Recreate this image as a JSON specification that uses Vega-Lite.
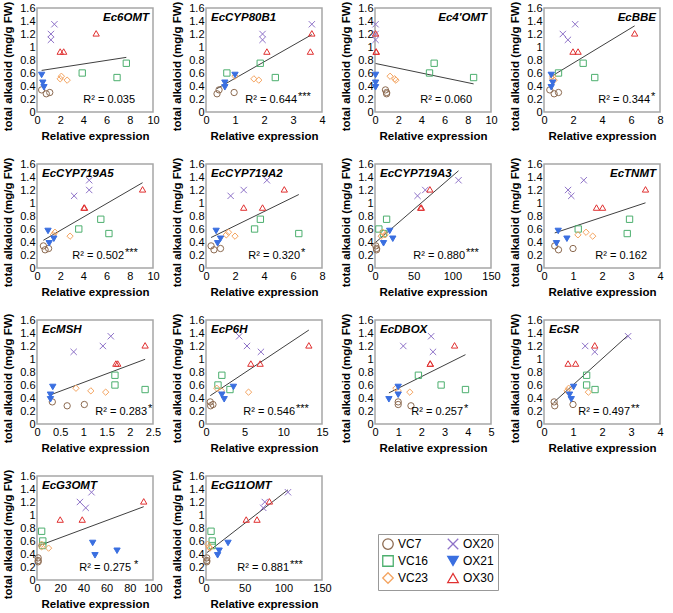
{
"$schema":"https://vega.github.io/schema/vega-lite/v6.json",
"padding":{"left":1,"top":0,"right":0,"bottom":0},
"columns":4,
"spacing":{"column":7,"row":13},
"config":{"font":"Liberation Sans","view":{"stroke":"#a6a6a6","strokeWidth":1.5},
"axis":{"ticks":false,"domain":false,"grid":false,"labelFontSize":11,"titleFontSize":11.5,"titleFontWeight":"bold","labelColor":"#000","titleColor":"#000","labelPadding":2,"labelFlush":false,"labelOverlap":false},
"axisX":{"titlePadding":5},"axisY":{"titlePadding":6,"titleY":58},
"text":{"fontSize":11,"color":"#000"}},
"datasets":{"samples":[
{"line":"VC7","total":0.34,"Ec6OMT":0.4,"EcCYP80B1":0.45,"Ec4OMT":0.9,"EcBBE":0.4,"EcCYP719A5":0.55,"EcCYP719A2":0.35,"EcCYP719A3":1,"EcTNMT":0.37,"EcMSH":0.33,"EcP6H":0.55,"EcDBOX":1.0,"EcSR":0.35,"EcG3OMT":1,"EcG11OMT":1},
{"line":"VC7","total":0.28,"Ec6OMT":0.8,"EcCYP80B1":0.38,"Ec4OMT":1.0,"EcBBE":0.7,"EcCYP719A5":0.7,"EcCYP719A2":0.55,"EcCYP719A3":2,"EcTNMT":0.5,"EcMSH":0.65,"EcP6H":0.6,"EcDBOX":1.55,"EcSR":0.37,"EcG3OMT":1,"EcG11OMT":1},
{"line":"VC7","total":0.30,"Ec6OMT":1.1,"EcCYP80B1":0.97,"Ec4OMT":1.0,"EcBBE":1.0,"EcCYP719A5":1.0,"EcCYP719A2":1.0,"EcCYP719A3":2,"EcTNMT":1.0,"EcMSH":1.02,"EcP6H":0.9,"EcDBOX":1.0,"EcSR":1.0,"EcG3OMT":1,"EcG11OMT":1},
{"line":"VC16","total":0.75,"Ec6OMT":7.7,"EcCYP80B1":1.87,"Ec4OMT":5.1,"EcBBE":2.7,"EcCYP719A5":5.5,"EcCYP719A2":3.75,"EcCYP719A3":15,"EcTNMT":2.95,"EcMSH":1.68,"EcP6H":2.05,"EcDBOX":1.87,"EcSR":1.47,"EcG3OMT":4,"EcG11OMT":6.5},
{"line":"VC16","total":0.60,"Ec6OMT":3.9,"EcCYP80B1":0.72,"Ec4OMT":4.7,"EcBBE":1.0,"EcCYP719A5":3.6,"EcCYP719A2":3.35,"EcCYP719A3":5,"EcTNMT":1.18,"EcMSH":1.68,"EcP6H":1.55,"EcDBOX":2.85,"EcSR":1.47,"EcG3OMT":5,"EcG11OMT":8},
{"line":"VC16","total":0.53,"Ec6OMT":6.9,"EcCYP80B1":2.39,"Ec4OMT":8.5,"EcBBE":3.5,"EcCYP719A5":6.2,"EcCYP719A2":6.4,"EcCYP719A3":11,"EcTNMT":2.87,"EcMSH":2.33,"EcP6H":3.1,"EcDBOX":3.9,"EcSR":1.76,"EcG3OMT":5,"EcG11OMT":8},
{"line":"VC23","total":0.55,"Ec6OMT":2.1,"EcCYP80B1":1.0,"Ec4OMT":1.3,"EcBBE":0.6,"EcCYP719A5":1.55,"EcCYP719A2":1.55,"EcCYP719A3":10,"EcTNMT":1.45,"EcMSH":0.84,"EcP6H":1.4,"EcDBOX":0.9,"EcSR":0.85,"EcG3OMT":4,"EcG11OMT":2},
{"line":"VC23","total":0.51,"Ec6OMT":2.0,"EcCYP80B1":1.65,"Ec4OMT":1.7,"EcBBE":0.6,"EcCYP719A5":1.4,"EcCYP719A2":1.4,"EcCYP719A3":13,"EcTNMT":1.17,"EcMSH":1.16,"EcP6H":2.0,"EcDBOX":1.0,"EcSR":0.8,"EcG3OMT":4,"EcG11OMT":4},
{"line":"VC23","total":0.49,"Ec6OMT":2.6,"EcCYP80B1":1.82,"Ec4OMT":1.8,"EcBBE":0.7,"EcCYP719A5":2.85,"EcCYP719A2":2.0,"EcCYP719A3":8,"EcTNMT":1.68,"EcMSH":1.48,"EcP6H":5.5,"EcDBOX":1.5,"EcSR":1.53,"EcG3OMT":10,"EcG11OMT":5},
{"line":"OX20","total":1.35,"Ec6OMT":1.5,"EcCYP80B1":3.65,"Ec4OMT":0.05,"EcBBE":2.15,"EcCYP719A5":4.5,"EcCYP719A2":4.2,"EcCYP719A3":108,"EcTNMT":1.37,"EcMSH":1.59,"EcP6H":4.3,"EcDBOX":2.42,"EcSR":2.9,"EcG3OMT":47,"EcG11OMT":106},
{"line":"OX20","total":1.20,"Ec6OMT":1.2,"EcCYP80B1":1.95,"Ec4OMT":0.05,"EcBBE":1.3,"EcCYP719A5":4.5,"EcCYP719A2":2.6,"EcCYP719A3":65,"EcTNMT":0.83,"EcMSH":1.42,"EcP6H":5.3,"EcDBOX":1.22,"EcSR":1.42,"EcG3OMT":37,"EcG11OMT":76},
{"line":"OX20","total":1.11,"Ec6OMT":1.2,"EcCYP80B1":1.95,"Ec4OMT":0.05,"EcBBE":1.65,"EcCYP719A5":3.2,"EcCYP719A2":1.7,"EcCYP719A3":55,"EcTNMT":0.94,"EcMSH":0.79,"EcP6H":7.1,"EcDBOX":2.5,"EcSR":1.75,"EcG3OMT":42,"EcG11OMT":74},
{"line":"OX21","total":0.57,"Ec6OMT":0.4,"EcCYP80B1":1.0,"Ec4OMT":0.05,"EcBBE":0.5,"EcCYP719A5":0.95,"EcCYP719A2":0.7,"EcCYP719A3":19,"EcTNMT":0.49,"EcMSH":0.34,"EcP6H":3.55,"EcDBOX":1.0,"EcSR":1.02,"EcG3OMT":48,"EcG11OMT":28.5},
{"line":"OX21","total":0.45,"Ec6OMT":0.5,"EcCYP80B1":0.65,"Ec4OMT":0.05,"EcBBE":0.6,"EcCYP719A5":1.45,"EcCYP719A2":1.0,"EcCYP719A3":23,"EcTNMT":0.79,"EcMSH":0.29,"EcP6H":2.05,"EcDBOX":1.0,"EcSR":0.88,"EcG3OMT":69,"EcG11OMT":17},
{"line":"OX21","total":0.38,"Ec6OMT":0.6,"EcCYP80B1":0.65,"Ec4OMT":0.05,"EcBBE":0.5,"EcCYP719A5":1.05,"EcCYP719A2":0.8,"EcCYP719A3":11,"EcTNMT":0.43,"EcMSH":0.29,"EcP6H":2.35,"EcDBOX":0.6,"EcSR":0.94,"EcG3OMT":50,"EcG11OMT":15},
{"line":"OX30","total":1.21,"Ec6OMT":5.1,"EcCYP80B1":3.65,"Ec4OMT":0.05,"EcBBE":6.25,"EcCYP719A5":9.1,"EcCYP719A2":5.4,"EcCYP719A3":71,"EcTNMT":3.5,"EcMSH":2.33,"EcP6H":13.3,"EcDBOX":3.43,"EcSR":1.75,"EcG3OMT":92,"EcG11OMT":82},
{"line":"OX30","total":0.93,"Ec6OMT":2.0,"EcCYP80B1":2.1,"Ec4OMT":0.1,"EcBBE":2.0,"EcCYP719A5":4.05,"EcCYP719A2":2.6,"EcCYP719A3":59,"EcTNMT":1.81,"EcMSH":1.7,"EcP6H":5.8,"EcDBOX":2.38,"EcSR":0.83,"EcG3OMT":20,"EcG11OMT":52},
{"line":"OX30","total":0.93,"Ec6OMT":2.3,"EcCYP80B1":3.6,"Ec4OMT":0.1,"EcBBE":2.35,"EcCYP719A5":4.1,"EcCYP719A2":3.9,"EcCYP719A3":60,"EcTNMT":2.02,"EcMSH":1.74,"EcP6H":7.0,"EcDBOX":2.38,"EcSR":1.09,"EcG3OMT":39,"EcG11OMT":66}
]},
"concat":[
{"width":116,"height":104,"data":{"name":"samples"},"layer":[
{"transform":[{"regression":"total","on":"Ec6OMT"}],"mark":{"type":"line","color":"#404040","strokeWidth":1},"encoding":{"x":{"field":"Ec6OMT","type":"quantitative","scale":{"domain":[0,10],"nice":false},"axis":{"values":[0,2,4,6,8,10],"tickCount":20,"format":"~r","title":"Relative  expression"}},"y":{"field":"total","type":"quantitative","scale":{"domain":[0,1.6],"nice":false},"axis":{"values":[0,0.2,0.4,0.6,0.8,1,1.2,1.4,1.6],"tickCount":20,"format":"~r","title":"total alkaloid (mg/g FW)"}}}},
{"mark":{"type":"point","filled":false,"size":40,"strokeWidth":1,"opacity":1},"encoding":{"x":{"field":"Ec6OMT","type":"quantitative"},"y":{"field":"total","type":"quantitative"},
"shape":{"field":"line","type":"nominal","scale":{"domain":["VC7","VC16","VC23","OX20","OX21","OX30"],"range":["circle","square","diamond","M-1,-1L1,1M-1,1L1,-1","triangle-down","triangle-up"]},"legend":{"orient":"none","legendX":341,"legendY":526,"columns":2,"title":null,"symbolSize":110,"symbolStrokeWidth":1.3,"labelFontSize":12,"columnPadding":16,"rowPadding":1,"padding":4,"strokeColor":"#999","symbolOpacity":1}},
"color":{"field":"line","type":"nominal","scale":{"domain":["VC7","VC16","VC23","OX20","OX21","OX30"],"range":["#8c6a50","#4caf6e","#f4a460","#8e72c8","#3a6fe0","#e03030"]},"legend":{"orient":"none","legendX":341,"legendY":526,"columns":2,"title":null,"symbolSize":110,"symbolStrokeWidth":1.3,"labelFontSize":12,"columnPadding":16,"rowPadding":1,"padding":4,"strokeColor":"#999","symbolOpacity":1}},
"fill":{"field":"line","type":"nominal","scale":{"domain":["VC7","VC16","VC23","OX20","OX21","OX30"],"range":["transparent","transparent","transparent","transparent","#3a6fe0","transparent"]},"legend":{"orient":"none","legendX":341,"legendY":526,"columns":2,"title":null,"symbolSize":110,"symbolStrokeWidth":1.3,"labelFontSize":12,"columnPadding":16,"rowPadding":1,"padding":4,"strokeColor":"#999","symbolOpacity":1}}}},
{"data":{"values":[{"gene":"Ec6OMT","r2":"R² = 0.035","sig":""}]},"layer":[
{"mark":{"type":"text","x":"width","dx":-4,"y":10,"align":"right","baseline":"middle","fontWeight":"bold","fontStyle":"italic","fontSize":11.5},"encoding":{"text":{"field":"gene"}}},
{"mark":{"type":"text","x":"width","dx":-18,"y":"height","dy":-12,"align":"right","baseline":"middle"},"encoding":{"text":{"field":"r2"}}},
{"mark":{"type":"text","x":"width","dx":-17,"y":"height","dy":-15,"align":"left","baseline":"middle"},"encoding":{"text":{"field":"sig"}}}]}]},

{"width":116,"height":104,"data":{"name":"samples"},"layer":[
{"transform":[{"regression":"total","on":"EcCYP80B1"}],"mark":{"type":"line","color":"#404040","strokeWidth":1},"encoding":{"x":{"field":"EcCYP80B1","type":"quantitative","scale":{"domain":[0,4],"nice":false},"axis":{"values":[0,1,2,3,4],"tickCount":20,"format":"~r","title":"Relative  expression"}},"y":{"field":"total","type":"quantitative","scale":{"domain":[0,1.6],"nice":false},"axis":{"values":[0,0.2,0.4,0.6,0.8,1,1.2,1.4,1.6],"tickCount":20,"format":"~r","title":"total alkaloid (mg/g FW)"}}}},
{"mark":{"type":"point","filled":false,"size":40,"strokeWidth":1,"opacity":1},"encoding":{"x":{"field":"EcCYP80B1","type":"quantitative"},"y":{"field":"total","type":"quantitative"},
"shape":{"field":"line","type":"nominal","scale":{"domain":["VC7","VC16","VC23","OX20","OX21","OX30"],"range":["circle","square","diamond","M-1,-1L1,1M-1,1L1,-1","triangle-down","triangle-up"]},"legend":null},
"color":{"field":"line","type":"nominal","scale":{"domain":["VC7","VC16","VC23","OX20","OX21","OX30"],"range":["#8c6a50","#4caf6e","#f4a460","#8e72c8","#3a6fe0","#e03030"]},"legend":null},
"fill":{"field":"line","type":"nominal","scale":{"domain":["VC7","VC16","VC23","OX20","OX21","OX30"],"range":["transparent","transparent","transparent","transparent","#3a6fe0","transparent"]},"legend":null}}},
{"data":{"values":[{"gene":"EcCYP80B1","r2":"R² = 0.644","sig":"***"}]},"layer":[
{"mark":{"type":"text","x":5,"y":10,"align":"left","baseline":"middle","fontWeight":"bold","fontStyle":"italic","fontSize":11.5},"encoding":{"text":{"field":"gene"}}},
{"mark":{"type":"text","x":"width","dx":-25,"y":"height","dy":-12,"align":"right","baseline":"middle"},"encoding":{"text":{"field":"r2"}}},
{"mark":{"type":"text","x":"width","dx":-24,"y":"height","dy":-15,"align":"left","baseline":"middle"},"encoding":{"text":{"field":"sig"}}}]}]},

{"width":116,"height":104,"data":{"name":"samples"},"layer":[
{"transform":[{"regression":"total","on":"Ec4OMT"}],"mark":{"type":"line","color":"#404040","strokeWidth":1},"encoding":{"x":{"field":"Ec4OMT","type":"quantitative","scale":{"domain":[0,10],"nice":false},"axis":{"values":[0,2,4,6,8,10],"tickCount":20,"format":"~r","title":"Relative  expression"}},"y":{"field":"total","type":"quantitative","scale":{"domain":[0,1.6],"nice":false},"axis":{"values":[0,0.2,0.4,0.6,0.8,1,1.2,1.4,1.6],"tickCount":20,"format":"~r","title":"total alkaloid (mg/g FW)"}}}},
{"mark":{"type":"point","filled":false,"size":40,"strokeWidth":1,"opacity":1},"encoding":{"x":{"field":"Ec4OMT","type":"quantitative"},"y":{"field":"total","type":"quantitative"},
"shape":{"field":"line","type":"nominal","scale":{"domain":["VC7","VC16","VC23","OX20","OX21","OX30"],"range":["circle","square","diamond","M-1,-1L1,1M-1,1L1,-1","triangle-down","triangle-up"]},"legend":null},
"color":{"field":"line","type":"nominal","scale":{"domain":["VC7","VC16","VC23","OX20","OX21","OX30"],"range":["#8c6a50","#4caf6e","#f4a460","#8e72c8","#3a6fe0","#e03030"]},"legend":null},
"fill":{"field":"line","type":"nominal","scale":{"domain":["VC7","VC16","VC23","OX20","OX21","OX30"],"range":["transparent","transparent","transparent","transparent","#3a6fe0","transparent"]},"legend":null}}},
{"data":{"values":[{"gene":"Ec4'OMT","r2":"R² = 0.060","sig":""}]},"layer":[
{"mark":{"type":"text","x":"width","dx":-4,"y":10,"align":"right","baseline":"middle","fontWeight":"bold","fontStyle":"italic","fontSize":11.5},"encoding":{"text":{"field":"gene"}}},
{"mark":{"type":"text","x":"width","dx":-19,"y":"height","dy":-12,"align":"right","baseline":"middle"},"encoding":{"text":{"field":"r2"}}},
{"mark":{"type":"text","x":"width","dx":-18,"y":"height","dy":-15,"align":"left","baseline":"middle"},"encoding":{"text":{"field":"sig"}}}]}]},

{"width":116,"height":104,"data":{"name":"samples"},"layer":[
{"transform":[{"regression":"total","on":"EcBBE"}],"mark":{"type":"line","color":"#404040","strokeWidth":1},"encoding":{"x":{"field":"EcBBE","type":"quantitative","scale":{"domain":[0,8],"nice":false},"axis":{"values":[0,2,4,6,8],"tickCount":20,"format":"~r","title":"Relative  expression"}},"y":{"field":"total","type":"quantitative","scale":{"domain":[0,1.6],"nice":false},"axis":{"values":[0,0.2,0.4,0.6,0.8,1,1.2,1.4,1.6],"tickCount":20,"format":"~r","title":"total alkaloid (mg/g FW)"}}}},
{"mark":{"type":"point","filled":false,"size":40,"strokeWidth":1,"opacity":1},"encoding":{"x":{"field":"EcBBE","type":"quantitative"},"y":{"field":"total","type":"quantitative"},
"shape":{"field":"line","type":"nominal","scale":{"domain":["VC7","VC16","VC23","OX20","OX21","OX30"],"range":["circle","square","diamond","M-1,-1L1,1M-1,1L1,-1","triangle-down","triangle-up"]},"legend":null},
"color":{"field":"line","type":"nominal","scale":{"domain":["VC7","VC16","VC23","OX20","OX21","OX30"],"range":["#8c6a50","#4caf6e","#f4a460","#8e72c8","#3a6fe0","#e03030"]},"legend":null},
"fill":{"field":"line","type":"nominal","scale":{"domain":["VC7","VC16","VC23","OX20","OX21","OX30"],"range":["transparent","transparent","transparent","transparent","#3a6fe0","transparent"]},"legend":null}}},
{"data":{"values":[{"gene":"EcBBE","r2":"R² = 0.344","sig":"*"}]},"layer":[
{"mark":{"type":"text","x":"width","dx":-4,"y":10,"align":"right","baseline":"middle","fontWeight":"bold","fontStyle":"italic","fontSize":11.5},"encoding":{"text":{"field":"gene"}}},
{"mark":{"type":"text","x":"width","dx":-10,"y":"height","dy":-12,"align":"right","baseline":"middle"},"encoding":{"text":{"field":"r2"}}},
{"mark":{"type":"text","x":"width","dx":-9,"y":"height","dy":-15,"align":"left","baseline":"middle"},"encoding":{"text":{"field":"sig"}}}]}]},

{"width":116,"height":104,"data":{"name":"samples"},"layer":[
{"transform":[{"regression":"total","on":"EcCYP719A5"}],"mark":{"type":"line","color":"#404040","strokeWidth":1},"encoding":{"x":{"field":"EcCYP719A5","type":"quantitative","scale":{"domain":[0,10],"nice":false},"axis":{"values":[0,2,4,6,8,10],"tickCount":20,"format":"~r","title":"Relative  expression"}},"y":{"field":"total","type":"quantitative","scale":{"domain":[0,1.6],"nice":false},"axis":{"values":[0,0.2,0.4,0.6,0.8,1,1.2,1.4,1.6],"tickCount":20,"format":"~r","title":"total alkaloid (mg/g FW)"}}}},
{"mark":{"type":"point","filled":false,"size":40,"strokeWidth":1,"opacity":1},"encoding":{"x":{"field":"EcCYP719A5","type":"quantitative"},"y":{"field":"total","type":"quantitative"},
"shape":{"field":"line","type":"nominal","scale":{"domain":["VC7","VC16","VC23","OX20","OX21","OX30"],"range":["circle","square","diamond","M-1,-1L1,1M-1,1L1,-1","triangle-down","triangle-up"]},"legend":null},
"color":{"field":"line","type":"nominal","scale":{"domain":["VC7","VC16","VC23","OX20","OX21","OX30"],"range":["#8c6a50","#4caf6e","#f4a460","#8e72c8","#3a6fe0","#e03030"]},"legend":null},
"fill":{"field":"line","type":"nominal","scale":{"domain":["VC7","VC16","VC23","OX20","OX21","OX30"],"range":["transparent","transparent","transparent","transparent","#3a6fe0","transparent"]},"legend":null}}},
{"data":{"values":[{"gene":"EcCYP719A5","r2":"R² = 0.502","sig":"***"}]},"layer":[
{"mark":{"type":"text","x":5,"y":10,"align":"left","baseline":"middle","fontWeight":"bold","fontStyle":"italic","fontSize":11.5},"encoding":{"text":{"field":"gene"}}},
{"mark":{"type":"text","x":"width","dx":-29,"y":"height","dy":-12,"align":"right","baseline":"middle"},"encoding":{"text":{"field":"r2"}}},
{"mark":{"type":"text","x":"width","dx":-28,"y":"height","dy":-15,"align":"left","baseline":"middle"},"encoding":{"text":{"field":"sig"}}}]}]},

{"width":116,"height":104,"data":{"name":"samples"},"layer":[
{"transform":[{"regression":"total","on":"EcCYP719A2"}],"mark":{"type":"line","color":"#404040","strokeWidth":1},"encoding":{"x":{"field":"EcCYP719A2","type":"quantitative","scale":{"domain":[0,8],"nice":false},"axis":{"values":[0,2,4,6,8],"tickCount":20,"format":"~r","title":"Relative  expression"}},"y":{"field":"total","type":"quantitative","scale":{"domain":[0,1.6],"nice":false},"axis":{"values":[0,0.2,0.4,0.6,0.8,1,1.2,1.4,1.6],"tickCount":20,"format":"~r","title":"total alkaloid (mg/g FW)"}}}},
{"mark":{"type":"point","filled":false,"size":40,"strokeWidth":1,"opacity":1},"encoding":{"x":{"field":"EcCYP719A2","type":"quantitative"},"y":{"field":"total","type":"quantitative"},
"shape":{"field":"line","type":"nominal","scale":{"domain":["VC7","VC16","VC23","OX20","OX21","OX30"],"range":["circle","square","diamond","M-1,-1L1,1M-1,1L1,-1","triangle-down","triangle-up"]},"legend":null},
"color":{"field":"line","type":"nominal","scale":{"domain":["VC7","VC16","VC23","OX20","OX21","OX30"],"range":["#8c6a50","#4caf6e","#f4a460","#8e72c8","#3a6fe0","#e03030"]},"legend":null},
"fill":{"field":"line","type":"nominal","scale":{"domain":["VC7","VC16","VC23","OX20","OX21","OX30"],"range":["transparent","transparent","transparent","transparent","#3a6fe0","transparent"]},"legend":null}}},
{"data":{"values":[{"gene":"EcCYP719A2","r2":"R² = 0.320","sig":"*"}]},"layer":[
{"mark":{"type":"text","x":5,"y":10,"align":"left","baseline":"middle","fontWeight":"bold","fontStyle":"italic","fontSize":11.5},"encoding":{"text":{"field":"gene"}}},
{"mark":{"type":"text","x":"width","dx":-22,"y":"height","dy":-12,"align":"right","baseline":"middle"},"encoding":{"text":{"field":"r2"}}},
{"mark":{"type":"text","x":"width","dx":-21,"y":"height","dy":-15,"align":"left","baseline":"middle"},"encoding":{"text":{"field":"sig"}}}]}]},

{"width":116,"height":104,"data":{"name":"samples"},"layer":[
{"transform":[{"regression":"total","on":"EcCYP719A3"}],"mark":{"type":"line","color":"#404040","strokeWidth":1},"encoding":{"x":{"field":"EcCYP719A3","type":"quantitative","scale":{"domain":[0,150],"nice":false},"axis":{"values":[0,50,100,150],"tickCount":20,"format":"~r","title":"Relative  expression"}},"y":{"field":"total","type":"quantitative","scale":{"domain":[0,1.6],"nice":false},"axis":{"values":[0,0.2,0.4,0.6,0.8,1,1.2,1.4,1.6],"tickCount":20,"format":"~r","title":"total alkaloid (mg/g FW)"}}}},
{"mark":{"type":"point","filled":false,"size":40,"strokeWidth":1,"opacity":1},"encoding":{"x":{"field":"EcCYP719A3","type":"quantitative"},"y":{"field":"total","type":"quantitative"},
"shape":{"field":"line","type":"nominal","scale":{"domain":["VC7","VC16","VC23","OX20","OX21","OX30"],"range":["circle","square","diamond","M-1,-1L1,1M-1,1L1,-1","triangle-down","triangle-up"]},"legend":null},
"color":{"field":"line","type":"nominal","scale":{"domain":["VC7","VC16","VC23","OX20","OX21","OX30"],"range":["#8c6a50","#4caf6e","#f4a460","#8e72c8","#3a6fe0","#e03030"]},"legend":null},
"fill":{"field":"line","type":"nominal","scale":{"domain":["VC7","VC16","VC23","OX20","OX21","OX30"],"range":["transparent","transparent","transparent","transparent","#3a6fe0","transparent"]},"legend":null}}},
{"data":{"values":[{"gene":"EcCYP719A3","r2":"R² = 0.880","sig":"***"}]},"layer":[
{"mark":{"type":"text","x":5,"y":10,"align":"left","baseline":"middle","fontWeight":"bold","fontStyle":"italic","fontSize":11.5},"encoding":{"text":{"field":"gene"}}},
{"mark":{"type":"text","x":"width","dx":-26,"y":"height","dy":-12,"align":"right","baseline":"middle"},"encoding":{"text":{"field":"r2"}}},
{"mark":{"type":"text","x":"width","dx":-25,"y":"height","dy":-15,"align":"left","baseline":"middle"},"encoding":{"text":{"field":"sig"}}}]}]},

{"width":116,"height":104,"data":{"name":"samples"},"layer":[
{"transform":[{"regression":"total","on":"EcTNMT"}],"mark":{"type":"line","color":"#404040","strokeWidth":1},"encoding":{"x":{"field":"EcTNMT","type":"quantitative","scale":{"domain":[0,4],"nice":false},"axis":{"values":[0,1,2,3,4],"tickCount":20,"format":"~r","title":"Relative  expression"}},"y":{"field":"total","type":"quantitative","scale":{"domain":[0,1.6],"nice":false},"axis":{"values":[0,0.2,0.4,0.6,0.8,1,1.2,1.4,1.6],"tickCount":20,"format":"~r","title":"total alkaloid (mg/g FW)"}}}},
{"mark":{"type":"point","filled":false,"size":40,"strokeWidth":1,"opacity":1},"encoding":{"x":{"field":"EcTNMT","type":"quantitative"},"y":{"field":"total","type":"quantitative"},
"shape":{"field":"line","type":"nominal","scale":{"domain":["VC7","VC16","VC23","OX20","OX21","OX30"],"range":["circle","square","diamond","M-1,-1L1,1M-1,1L1,-1","triangle-down","triangle-up"]},"legend":null},
"color":{"field":"line","type":"nominal","scale":{"domain":["VC7","VC16","VC23","OX20","OX21","OX30"],"range":["#8c6a50","#4caf6e","#f4a460","#8e72c8","#3a6fe0","#e03030"]},"legend":null},
"fill":{"field":"line","type":"nominal","scale":{"domain":["VC7","VC16","VC23","OX20","OX21","OX30"],"range":["transparent","transparent","transparent","transparent","#3a6fe0","transparent"]},"legend":null}}},
{"data":{"values":[{"gene":"EcTNMT","r2":"R² = 0.162","sig":""}]},"layer":[
{"mark":{"type":"text","x":"width","dx":-4,"y":10,"align":"right","baseline":"middle","fontWeight":"bold","fontStyle":"italic","fontSize":11.5},"encoding":{"text":{"field":"gene"}}},
{"mark":{"type":"text","x":"width","dx":-13,"y":"height","dy":-12,"align":"right","baseline":"middle"},"encoding":{"text":{"field":"r2"}}},
{"mark":{"type":"text","x":"width","dx":-12,"y":"height","dy":-15,"align":"left","baseline":"middle"},"encoding":{"text":{"field":"sig"}}}]}]},

{"width":116,"height":104,"data":{"name":"samples"},"layer":[
{"transform":[{"regression":"total","on":"EcMSH"}],"mark":{"type":"line","color":"#404040","strokeWidth":1},"encoding":{"x":{"field":"EcMSH","type":"quantitative","scale":{"domain":[0,2.5],"nice":false},"axis":{"values":[0,0.5,1,1.5,2,2.5],"tickCount":20,"format":"~r","title":"Relative  expression"}},"y":{"field":"total","type":"quantitative","scale":{"domain":[0,1.6],"nice":false},"axis":{"values":[0,0.2,0.4,0.6,0.8,1,1.2,1.4,1.6],"tickCount":20,"format":"~r","title":"total alkaloid (mg/g FW)"}}}},
{"mark":{"type":"point","filled":false,"size":40,"strokeWidth":1,"opacity":1},"encoding":{"x":{"field":"EcMSH","type":"quantitative"},"y":{"field":"total","type":"quantitative"},
"shape":{"field":"line","type":"nominal","scale":{"domain":["VC7","VC16","VC23","OX20","OX21","OX30"],"range":["circle","square","diamond","M-1,-1L1,1M-1,1L1,-1","triangle-down","triangle-up"]},"legend":null},
"color":{"field":"line","type":"nominal","scale":{"domain":["VC7","VC16","VC23","OX20","OX21","OX30"],"range":["#8c6a50","#4caf6e","#f4a460","#8e72c8","#3a6fe0","#e03030"]},"legend":null},
"fill":{"field":"line","type":"nominal","scale":{"domain":["VC7","VC16","VC23","OX20","OX21","OX30"],"range":["transparent","transparent","transparent","transparent","#3a6fe0","transparent"]},"legend":null}}},
{"data":{"values":[{"gene":"EcMSH","r2":"R² = 0.283","sig":"*"}]},"layer":[
{"mark":{"type":"text","x":5,"y":10,"align":"left","baseline":"middle","fontWeight":"bold","fontStyle":"italic","fontSize":11.5},"encoding":{"text":{"field":"gene"}}},
{"mark":{"type":"text","x":"width","dx":-6,"y":"height","dy":-12,"align":"right","baseline":"middle"},"encoding":{"text":{"field":"r2"}}},
{"mark":{"type":"text","x":"width","dx":-5,"y":"height","dy":-15,"align":"left","baseline":"middle"},"encoding":{"text":{"field":"sig"}}}]}]},

{"width":116,"height":104,"data":{"name":"samples"},"layer":[
{"transform":[{"regression":"total","on":"EcP6H"}],"mark":{"type":"line","color":"#404040","strokeWidth":1},"encoding":{"x":{"field":"EcP6H","type":"quantitative","scale":{"domain":[0,15],"nice":false},"axis":{"values":[0,5,10,15],"tickCount":20,"format":"~r","title":"Relative  expression"}},"y":{"field":"total","type":"quantitative","scale":{"domain":[0,1.6],"nice":false},"axis":{"values":[0,0.2,0.4,0.6,0.8,1,1.2,1.4,1.6],"tickCount":20,"format":"~r","title":"total alkaloid (mg/g FW)"}}}},
{"mark":{"type":"point","filled":false,"size":40,"strokeWidth":1,"opacity":1},"encoding":{"x":{"field":"EcP6H","type":"quantitative"},"y":{"field":"total","type":"quantitative"},
"shape":{"field":"line","type":"nominal","scale":{"domain":["VC7","VC16","VC23","OX20","OX21","OX30"],"range":["circle","square","diamond","M-1,-1L1,1M-1,1L1,-1","triangle-down","triangle-up"]},"legend":null},
"color":{"field":"line","type":"nominal","scale":{"domain":["VC7","VC16","VC23","OX20","OX21","OX30"],"range":["#8c6a50","#4caf6e","#f4a460","#8e72c8","#3a6fe0","#e03030"]},"legend":null},
"fill":{"field":"line","type":"nominal","scale":{"domain":["VC7","VC16","VC23","OX20","OX21","OX30"],"range":["transparent","transparent","transparent","transparent","#3a6fe0","transparent"]},"legend":null}}},
{"data":{"values":[{"gene":"EcP6H","r2":"R² = 0.546","sig":"***"}]},"layer":[
{"mark":{"type":"text","x":5,"y":10,"align":"left","baseline":"middle","fontWeight":"bold","fontStyle":"italic","fontSize":11.5},"encoding":{"text":{"field":"gene"}}},
{"mark":{"type":"text","x":"width","dx":-27,"y":"height","dy":-12,"align":"right","baseline":"middle"},"encoding":{"text":{"field":"r2"}}},
{"mark":{"type":"text","x":"width","dx":-26,"y":"height","dy":-15,"align":"left","baseline":"middle"},"encoding":{"text":{"field":"sig"}}}]}]},

{"width":116,"height":104,"data":{"name":"samples"},"layer":[
{"transform":[{"regression":"total","on":"EcDBOX"}],"mark":{"type":"line","color":"#404040","strokeWidth":1},"encoding":{"x":{"field":"EcDBOX","type":"quantitative","scale":{"domain":[0,5],"nice":false},"axis":{"values":[0,1,2,3,4,5],"tickCount":20,"format":"~r","title":"Relative  expression"}},"y":{"field":"total","type":"quantitative","scale":{"domain":[0,1.6],"nice":false},"axis":{"values":[0,0.2,0.4,0.6,0.8,1,1.2,1.4,1.6],"tickCount":20,"format":"~r","title":"total alkaloid (mg/g FW)"}}}},
{"mark":{"type":"point","filled":false,"size":40,"strokeWidth":1,"opacity":1},"encoding":{"x":{"field":"EcDBOX","type":"quantitative"},"y":{"field":"total","type":"quantitative"},
"shape":{"field":"line","type":"nominal","scale":{"domain":["VC7","VC16","VC23","OX20","OX21","OX30"],"range":["circle","square","diamond","M-1,-1L1,1M-1,1L1,-1","triangle-down","triangle-up"]},"legend":null},
"color":{"field":"line","type":"nominal","scale":{"domain":["VC7","VC16","VC23","OX20","OX21","OX30"],"range":["#8c6a50","#4caf6e","#f4a460","#8e72c8","#3a6fe0","#e03030"]},"legend":null},
"fill":{"field":"line","type":"nominal","scale":{"domain":["VC7","VC16","VC23","OX20","OX21","OX30"],"range":["transparent","transparent","transparent","transparent","#3a6fe0","transparent"]},"legend":null}}},
{"data":{"values":[{"gene":"EcDBOX","r2":"R² = 0.257","sig":"*"}]},"layer":[
{"mark":{"type":"text","x":5,"y":10,"align":"left","baseline":"middle","fontWeight":"bold","fontStyle":"italic","fontSize":11.5},"encoding":{"text":{"field":"gene"}}},
{"mark":{"type":"text","x":"width","dx":-28,"y":"height","dy":-12,"align":"right","baseline":"middle"},"encoding":{"text":{"field":"r2"}}},
{"mark":{"type":"text","x":"width","dx":-27,"y":"height","dy":-15,"align":"left","baseline":"middle"},"encoding":{"text":{"field":"sig"}}}]}]},

{"width":116,"height":104,"data":{"name":"samples"},"layer":[
{"transform":[{"regression":"total","on":"EcSR"}],"mark":{"type":"line","color":"#404040","strokeWidth":1},"encoding":{"x":{"field":"EcSR","type":"quantitative","scale":{"domain":[0,4],"nice":false},"axis":{"values":[0,1,2,3,4],"tickCount":20,"format":"~r","title":"Relative  expression"}},"y":{"field":"total","type":"quantitative","scale":{"domain":[0,1.6],"nice":false},"axis":{"values":[0,0.2,0.4,0.6,0.8,1,1.2,1.4,1.6],"tickCount":20,"format":"~r","title":"total alkaloid (mg/g FW)"}}}},
{"mark":{"type":"point","filled":false,"size":40,"strokeWidth":1,"opacity":1},"encoding":{"x":{"field":"EcSR","type":"quantitative"},"y":{"field":"total","type":"quantitative"},
"shape":{"field":"line","type":"nominal","scale":{"domain":["VC7","VC16","VC23","OX20","OX21","OX30"],"range":["circle","square","diamond","M-1,-1L1,1M-1,1L1,-1","triangle-down","triangle-up"]},"legend":null},
"color":{"field":"line","type":"nominal","scale":{"domain":["VC7","VC16","VC23","OX20","OX21","OX30"],"range":["#8c6a50","#4caf6e","#f4a460","#8e72c8","#3a6fe0","#e03030"]},"legend":null},
"fill":{"field":"line","type":"nominal","scale":{"domain":["VC7","VC16","VC23","OX20","OX21","OX30"],"range":["transparent","transparent","transparent","transparent","#3a6fe0","transparent"]},"legend":null}}},
{"data":{"values":[{"gene":"EcSR","r2":"R² = 0.497","sig":"**"}]},"layer":[
{"mark":{"type":"text","x":5,"y":10,"align":"left","baseline":"middle","fontWeight":"bold","fontStyle":"italic","fontSize":11.5},"encoding":{"text":{"field":"gene"}}},
{"mark":{"type":"text","x":"width","dx":-30,"y":"height","dy":-12,"align":"right","baseline":"middle"},"encoding":{"text":{"field":"r2"}}},
{"mark":{"type":"text","x":"width","dx":-29,"y":"height","dy":-15,"align":"left","baseline":"middle"},"encoding":{"text":{"field":"sig"}}}]}]},

{"width":116,"height":104,"data":{"name":"samples"},"layer":[
{"transform":[{"regression":"total","on":"EcG3OMT"}],"mark":{"type":"line","color":"#404040","strokeWidth":1},"encoding":{"x":{"field":"EcG3OMT","type":"quantitative","scale":{"domain":[0,100],"nice":false},"axis":{"values":[0,20,40,60,80,100],"tickCount":20,"format":"~r","title":"Relative  expression"}},"y":{"field":"total","type":"quantitative","scale":{"domain":[0,1.6],"nice":false},"axis":{"values":[0,0.2,0.4,0.6,0.8,1,1.2,1.4,1.6],"tickCount":20,"format":"~r","title":"total alkaloid (mg/g FW)"}}}},
{"mark":{"type":"point","filled":false,"size":40,"strokeWidth":1,"opacity":1},"encoding":{"x":{"field":"EcG3OMT","type":"quantitative"},"y":{"field":"total","type":"quantitative"},
"shape":{"field":"line","type":"nominal","scale":{"domain":["VC7","VC16","VC23","OX20","OX21","OX30"],"range":["circle","square","diamond","M-1,-1L1,1M-1,1L1,-1","triangle-down","triangle-up"]},"legend":null},
"color":{"field":"line","type":"nominal","scale":{"domain":["VC7","VC16","VC23","OX20","OX21","OX30"],"range":["#8c6a50","#4caf6e","#f4a460","#8e72c8","#3a6fe0","#e03030"]},"legend":null},
"fill":{"field":"line","type":"nominal","scale":{"domain":["VC7","VC16","VC23","OX20","OX21","OX30"],"range":["transparent","transparent","transparent","transparent","#3a6fe0","transparent"]},"legend":null}}},
{"data":{"values":[{"gene":"EcG3OMT","r2":"R² = 0.275","sig":" *"}]},"layer":[
{"mark":{"type":"text","x":5,"y":10,"align":"left","baseline":"middle","fontWeight":"bold","fontStyle":"italic","fontSize":11.5},"encoding":{"text":{"field":"gene"}}},
{"mark":{"type":"text","x":"width","dx":-22,"y":"height","dy":-12,"align":"right","baseline":"middle"},"encoding":{"text":{"field":"r2"}}},
{"mark":{"type":"text","x":"width","dx":-19,"y":"height","dy":-15,"align":"left","baseline":"middle"},"encoding":{"text":{"field":"sig"}}}]}]},

{"width":116,"height":104,"data":{"name":"samples"},"layer":[
{"transform":[{"regression":"total","on":"EcG11OMT"}],"mark":{"type":"line","color":"#404040","strokeWidth":1},"encoding":{"x":{"field":"EcG11OMT","type":"quantitative","scale":{"domain":[0,150],"nice":false},"axis":{"values":[0,50,100,150],"tickCount":20,"format":"~r","title":"Relative  expression"}},"y":{"field":"total","type":"quantitative","scale":{"domain":[0,1.6],"nice":false},"axis":{"values":[0,0.2,0.4,0.6,0.8,1,1.2,1.4,1.6],"tickCount":20,"format":"~r","title":"total alkaloid (mg/g FW)"}}}},
{"mark":{"type":"point","filled":false,"size":40,"strokeWidth":1,"opacity":1},"encoding":{"x":{"field":"EcG11OMT","type":"quantitative"},"y":{"field":"total","type":"quantitative"},
"shape":{"field":"line","type":"nominal","scale":{"domain":["VC7","VC16","VC23","OX20","OX21","OX30"],"range":["circle","square","diamond","M-1,-1L1,1M-1,1L1,-1","triangle-down","triangle-up"]},"legend":null},
"color":{"field":"line","type":"nominal","scale":{"domain":["VC7","VC16","VC23","OX20","OX21","OX30"],"range":["#8c6a50","#4caf6e","#f4a460","#8e72c8","#3a6fe0","#e03030"]},"legend":null},
"fill":{"field":"line","type":"nominal","scale":{"domain":["VC7","VC16","VC23","OX20","OX21","OX30"],"range":["transparent","transparent","transparent","transparent","#3a6fe0","transparent"]},"legend":null}}},
{"data":{"values":[{"gene":"EcG11OMT","r2":"R² = 0.881","sig":"***"}]},"layer":[
{"mark":{"type":"text","x":5,"y":10,"align":"left","baseline":"middle","fontWeight":"bold","fontStyle":"italic","fontSize":11.5},"encoding":{"text":{"field":"gene"}}},
{"mark":{"type":"text","x":"width","dx":-33,"y":"height","dy":-12,"align":"right","baseline":"middle"},"encoding":{"text":{"field":"r2"}}},
{"mark":{"type":"text","x":"width","dx":-32,"y":"height","dy":-15,"align":"left","baseline":"middle"},"encoding":{"text":{"field":"sig"}}}]}]}
]
}
